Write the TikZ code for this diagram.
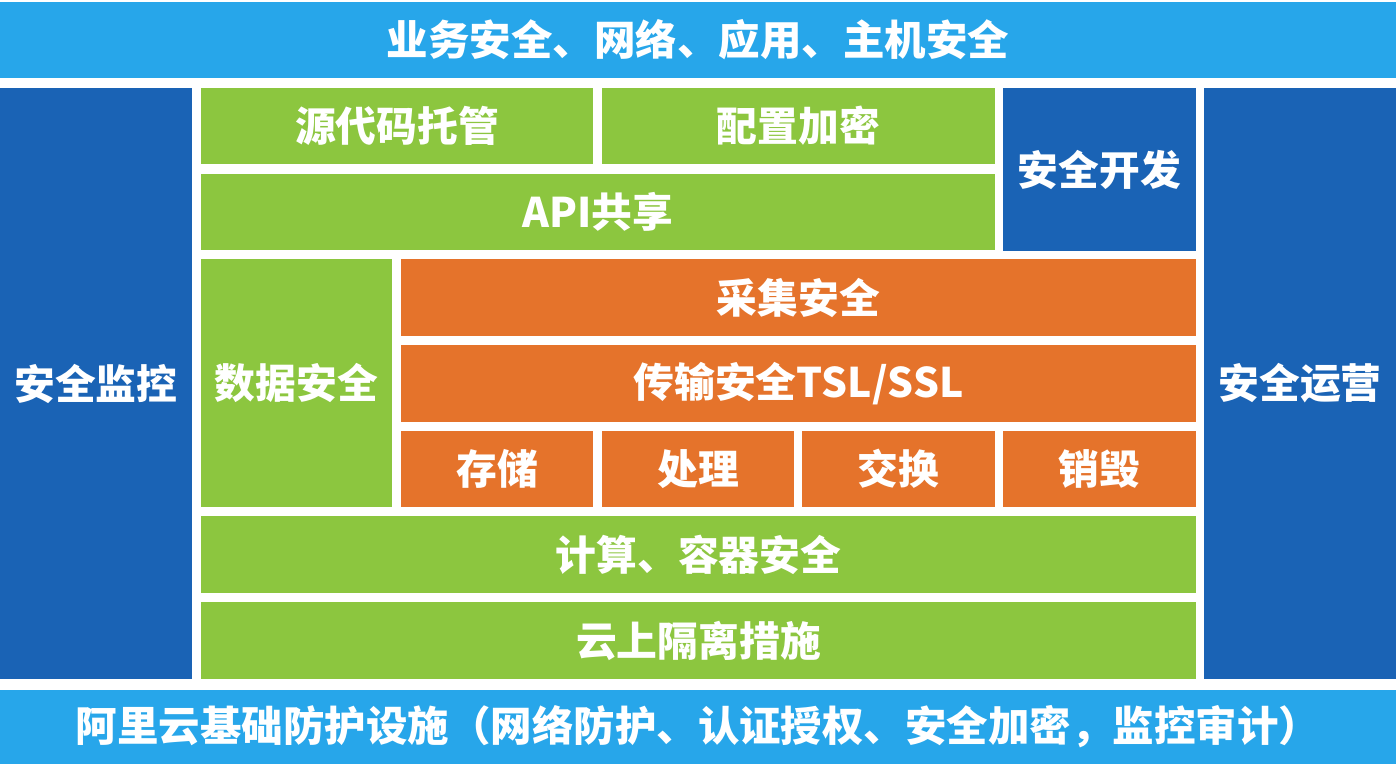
\documentclass[tikz,border=0pt]{standalone}
\usepackage{fontspec}
\newfontfamily\cjk{Noto Sans CJK SC}
\usepackage{tikz}
\usetikzlibrary{positioning}
\definecolor{barblue}{HTML}{27A6EA}
\definecolor{darkblue}{HTML}{1A63B5}
\definecolor{leafgreen}{HTML}{8CC63F}
\definecolor{rustorange}{HTML}{E5732B}

\begin{document}
\begin{tikzpicture}[
  blk/.style={rectangle,inner sep=0pt,text=white,align=center,
              font=\cjk\bfseries\fontsize{11.6}{14}\selectfont},
  bar/.style={blk,fill=barblue,minimum width=13.96cm,
              font=\cjk\bfseries\fontsize{11.8}{14}\selectfont},
  side/.style={blk,fill=darkblue},
  gbox/.style={blk,fill=leafgreen},
  obox/.style={blk,fill=rustorange}
]
\useasboundingbox (0,0) rectangle (14,-7.68);

% outer layers
\node[bar,minimum height=0.76cm] (biz) at (6.98,-0.40) {业务安全、网络、应用、主机安全};
\node[bar,minimum height=0.74cm] (base) at (6.98,-7.27) {阿里云基础防护设施（网络防护、认证授权、安全加密，监控审计）};

% side columns
\node[side,minimum width=1.92cm,minimum height=5.91cm] (monitor) at (0.96,-3.835) {安全监控};
\node[side,minimum width=1.92cm,minimum height=5.91cm] (ops) at (13.00,-3.835) {安全运营};

% development
\node[gbox,minimum width=3.92cm,minimum height=0.76cm] (src) at (3.97,-1.26) {源代码托管};
\node[gbox,minimum width=3.93cm,minimum height=0.76cm] (cfg) at (7.985,-1.26) {配置加密};
\node[gbox,minimum width=7.94cm,minimum height=0.76cm] (api) at (5.98,-2.12) {API共享};
\node[side,minimum width=1.93cm,minimum height=1.63cm] (dev) at (10.995,-1.695) {安全开发};

% data
\node[gbox,minimum width=1.91cm,minimum height=2.48cm] (data) at (2.965,-3.83) {数据安全};
\node[obox,minimum width=7.95cm,minimum height=0.77cm] (collect) at (7.985,-2.975) {采集安全};
\node[obox,minimum width=7.95cm,minimum height=0.77cm] (trans) at (7.985,-3.835) {传输安全TSL/SSL};
\node[obox,minimum width=1.92cm,minimum height=0.76cm] (store) at (4.97,-4.69) {存储};
\node[obox,minimum width=1.92cm,minimum height=0.76cm] (proc) at (6.98,-4.69) {处理};
\node[obox,minimum width=1.93cm,minimum height=0.76cm] (exch) at (8.985,-4.69) {交换};
\node[obox,minimum width=1.93cm,minimum height=0.76cm] (destroy) at (10.995,-4.69) {销毁};

% infrastructure
\node[gbox,minimum width=9.95cm,minimum height=0.77cm] (compute) at (6.985,-5.545) {计算、容器安全};
\node[gbox,minimum width=9.95cm,minimum height=0.77cm] (isolate) at (6.985,-6.405) {云上隔离措施};

\end{tikzpicture}
\end{document}
